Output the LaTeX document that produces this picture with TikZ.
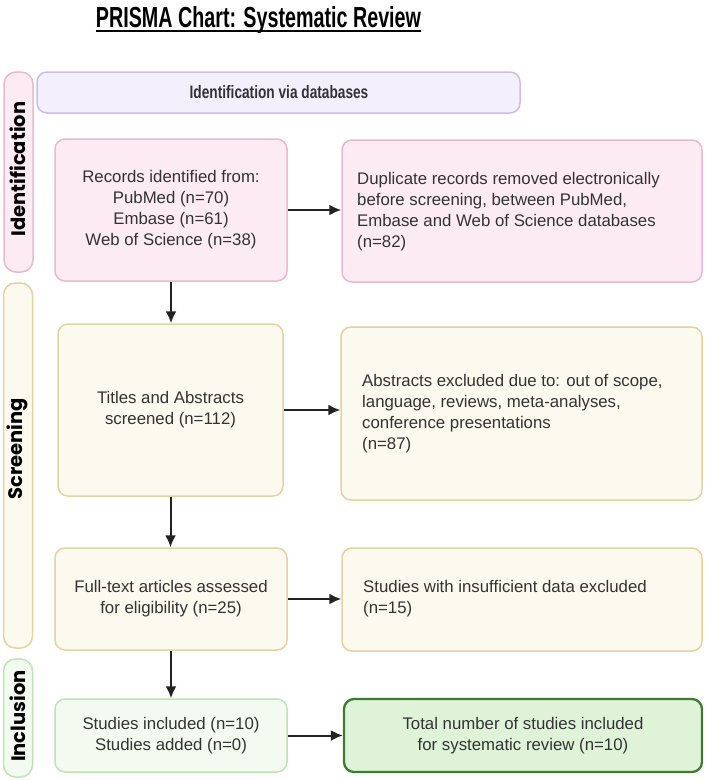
\documentclass[tikz,border=0pt]{standalone}
\usepackage{fontspec}
\setmainfont{Liberation Sans}
\newfontfamily\titlefont[FakeStretch=0.68]{Liberation Sans}
\newfontfamily\bannerfont[FakeStretch=0.76]{Liberation Sans}
\newfontfamily\sidefont{Poppins}
\usetikzlibrary{arrows.meta}
\definecolor{pinkfill}{HTML}{FDEBF4}
\definecolor{pinkline}{HTML}{E9B9CF}
\definecolor{lavfill}{HTML}{F4EFFD}
\definecolor{lavline}{HTML}{CDBDEB}
\definecolor{yelfill}{HTML}{FCF9EE}
\definecolor{yelline}{HTML}{E3D3A0}
\definecolor{grnfill}{HTML}{F3FBF1}
\definecolor{grnline}{HTML}{BEE3B4}
\definecolor{totfill}{HTML}{DFF3D8}
\definecolor{totline}{HTML}{3E7B30}
\definecolor{txt}{HTML}{333333}
\definecolor{arr}{HTML}{222222}
\begin{document}
\begin{tikzpicture}[x=1pt,y=-1pt,
  box/.style={draw, line width=1.5pt, rounded corners=10pt, inner sep=0pt},
  pinkbox/.style={box, draw=pinkline, fill=pinkfill},
  lavbox/.style={box, draw=lavline, fill=lavfill},
  yelbox/.style={box, draw=yelline, fill=yelfill},
  grnbox/.style={box, draw=grnline, fill=grnfill},
  totbox/.style={box, draw=totline, fill=totfill, line width=2.3pt},
  sidebar/.style={draw, line width=1.5pt, rounded corners=12pt, inner sep=0pt, minimum width=29},
  boxtext/.style={text=txt, font=\fontsize{16.8}{21}\selectfont, align=center, inner sep=0pt},
  lefttext/.style={text=txt, font=\fontsize{16.8}{21}\selectfont, align=left, inner sep=0pt, anchor=west},
  sidetext/.style={rotate=90, font=\sidefont\bfseries\fontsize{19.5}{22}\selectfont, inner sep=0pt},
  flow/.style={draw=arr, line width=2pt, -{Latex[length=12pt,width=11pt]}}
]
\useasboundingbox (0,0) rectangle (708,780);
\fill[white] (0,0) rectangle (708,780);

% title
\node[font=\titlefont\bfseries\fontsize{29}{32}\selectfont, inner sep=0pt, anchor=base] (title) at (258.5,27) {PRISMA Chart: Systematic Review};
\draw[line width=2pt] (title.base west) ++(0,3.5) coordinate (ul1) -- (title.base east |- ul1);

% side bars
\node[sidebar, draw=pinkline, fill=pinkfill, minimum height=200] (sbI) at (18.5,172) {};
\node[sidebar, draw=yelline, fill=yelfill, minimum height=365] (sbS) at (18,465.5) {};
\node[sidebar, draw=grnline, fill=grnfill, minimum height=118] (sbN) at (18,718) {};
\node[sidetext] (tI) at (17.5,169) {Identification};
\node[sidetext] (tS) at (17.5,449) {Screening};
\node[sidetext] (tN) at (17.5,716) {Inclusion};

% banner
\node[lavbox, minimum width=483, minimum height=41] (banner) at (278.5,92.5) {};
\node[font=\bannerfont\bfseries\fontsize{18}{20}\selectfont, text=txt, inner sep=0pt] (bannertext) at (279,92.5) {Identification via databases};

% boxes
\node[pinkbox, minimum width=232, minimum height=142] (A) at (171,210) {};
\node[boxtext] (At) at (171,210) {Records identified from:\\PubMed (n=70)\\Embase (n=61)\\Web of Science (n=38)};

\node[pinkbox, minimum width=360, minimum height=142] (B) at (522,211) {};
\node[lefttext] (Bt) at (357,212) {Duplicate records removed electronically\\before screening, between PubMed,\\Embase and Web of Science databases\\(n=82)};

\node[yelbox, minimum width=225, minimum height=172] (C) at (170.5,410) {};
\node[boxtext] (Ct) at (170.5,410) {Titles and Abstracts\\screened (n=112)};

\node[yelbox, minimum width=361, minimum height=173] (D) at (521.5,413.5) {};
\node[lefttext] (Dt) at (362,413.5) {Abstracts excluded due to: out of scope,\\language, reviews, meta-analyses,\\conference presentations\\(n=87)};

\node[yelbox, minimum width=232, minimum height=102] (E) at (171,599) {};
\node[boxtext] (Et) at (171,599) {Full-text articles assessed\\for eligibility (n=25)};

\node[yelbox, minimum width=360, minimum height=103] (F) at (522,599.5) {};
\node[lefttext] (Ft) at (363,599) {Studies with insufficient data excluded\\(n=15)};

\node[grnbox, minimum width=232, minimum height=73] (G) at (171,735.5) {};
\node[boxtext] (Gt) at (171,736) {Studies included (n=10)\\Studies added (n=0)};

\node[totbox, minimum width=358, minimum height=73] (H) at (523,735.5) {};
\node[boxtext] (Ht) at (523,736) {Total number of studies included\\for systematic review (n=10)};

% connectors
\draw[flow] (A.east) -- (A.east -| B.west);
\draw[flow] (A.south) -- (A.south |- C.north);
\draw[flow] (C.east) -- (C.east -| D.west);
\draw[flow] (C.south) -- (C.south |- E.north);
\draw[flow] (E.east) -- (E.east -| F.west);
\draw[flow] (E.south) -- (E.south |- G.north);
\draw[flow] (G.east) -- (G.east -| H.west);
\end{tikzpicture}
\end{document}
